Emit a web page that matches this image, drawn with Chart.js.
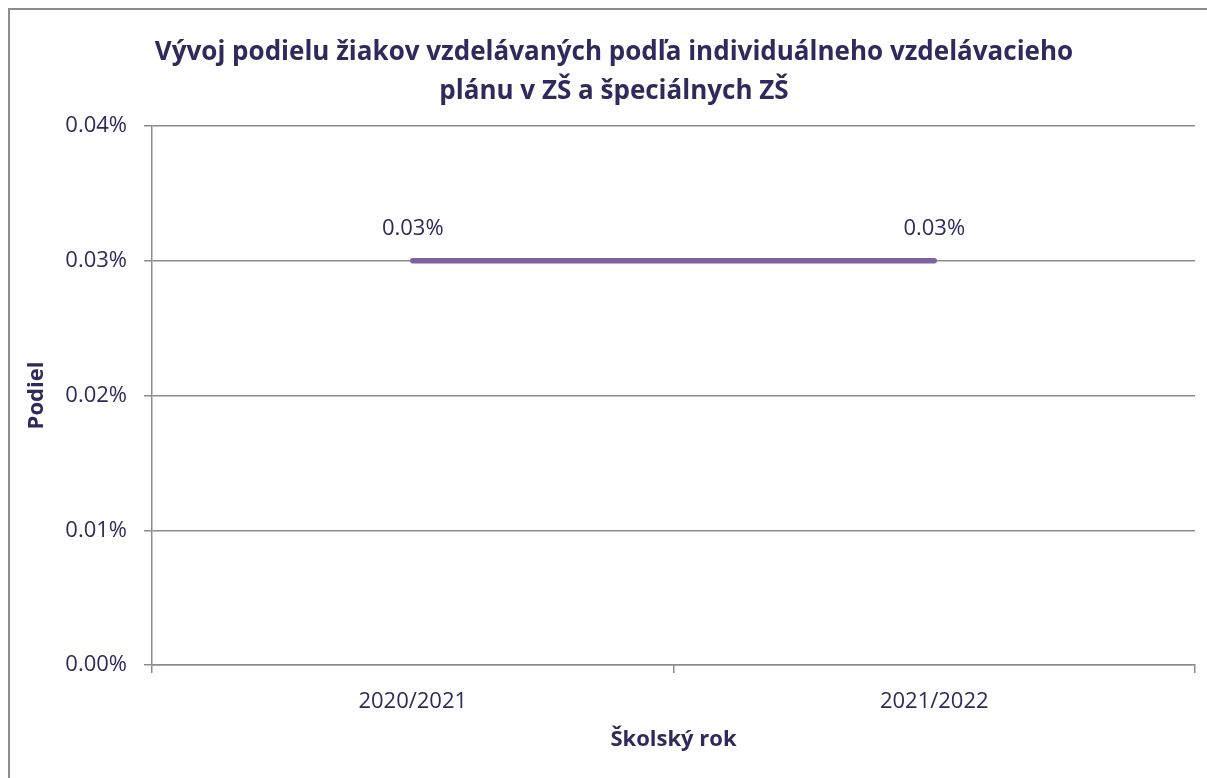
<!DOCTYPE html>
<html>
<head>
<meta charset="utf-8">
<script src="https://cdn.jsdelivr.net/npm/chart.js@4.4.1/dist/chart.umd.min.js"></script>
<style>
  html, body { margin: 0; padding: 0; background: #fff; overflow: hidden; }
  #frame { position: absolute; left: 8px; top: 8px; width: 1300px; height: 900px; border: 2px solid #8c8c8c; }
  #chart { position: absolute; left: 0; top: 0; }
</style>
</head>
<body>
<div id="frame"></div>
<canvas id="chart" width="1207" height="778"></canvas>
<script>
const categories = ['2020/2021', '2021/2022'];
const shareValues = [0.03, 0.03];
const titleLines = ['Vývoj podielu žiakov vzdelávaných podľa individuálneho vzdelávacieho', 'plánu v ZŠ a špeciálnych ZŠ'];

const textColor = '#2e2b5c';
const gridColor = '#8c8c8c';
const fontFamily = '"Open Sans", "Noto Sans", sans-serif';

// title and point labels drawn on the canvas
const annotatePlugin = {
  id: 'annotate',
  afterDraw(chart) {
    const ctx = chart.ctx;
    ctx.save();
    ctx.fillStyle = textColor;
    ctx.textAlign = 'center';
    ctx.textBaseline = 'middle';
    ctx.font = 'bold 26px ' + fontFamily;
    ctx.fillText(titleLines[0], 614, 53);
    ctx.fillText(titleLines[1], 614, 92);

    ctx.font = '22px ' + fontFamily;
    const meta = chart.getDatasetMeta(0);
    meta.data.forEach((pt, i) => {
      ctx.fillText(shareValues[i].toFixed(2) + '%', pt.x, pt.y - 32);
    });
    ctx.restore();
  }
};

new Chart(document.getElementById('chart').getContext('2d'), {
  type: 'line',
  data: {
    labels: categories,
    datasets: [{
      label: 'Podiel',
      data: shareValues,
      borderColor: '#7f63a1',
      borderWidth: 5.5,
      borderCapStyle: 'round',
      pointRadius: 0,
      tension: 0
    }]
  },
  options: {
    responsive: false,
    animation: false,
    layout: { padding: { left: 0, right: 12, top: 126, bottom: 0 } },
    plugins: {
      legend: { display: false },
      title: { display: false },
      tooltip: { enabled: false }
    },
    scales: {
      x: {
        offset: true,
        grid: {
          offset: true,
          drawOnChartArea: false,
          drawTicks: true,
          tickLength: 8,
          tickColor: gridColor,
          lineWidth: 1.5
        },
        border: { display: true, color: gridColor, width: 1.5 },
        ticks: { color: textColor, font: { family: fontFamily, size: 22 }, padding: 16 },
        title: {
          display: true,
          text: 'Školský rok',
          color: textColor,
          font: { family: fontFamily, size: 22, weight: 'bold' },
          padding: { top: 0, bottom: 25 }
        },
        afterFit(scale) { scale.height = 113; }
      },
      y: {
        min: 0,
        max: 0.04,
        ticks: {
          stepSize: 0.01,
          color: textColor,
          font: { family: fontFamily, size: 22 },
          padding: 17,
          callback: v => v.toFixed(2) + '%'
        },
        grid: {
          color: gridColor,
          lineWidth: 1.5,
          tickLength: 8,
          tickColor: gridColor
        },
        border: { display: true, color: gridColor, width: 1.5 },
        title: {
          display: true,
          text: 'Podiel',
          color: textColor,
          font: { family: fontFamily, size: 22, weight: 'bold' },
          padding: { top: 24, bottom: 0 }
        },
        afterFit(scale) { scale.width = 152; }
      }
    }
  },
  plugins: [annotatePlugin]
});
</script>
</body>
</html>
